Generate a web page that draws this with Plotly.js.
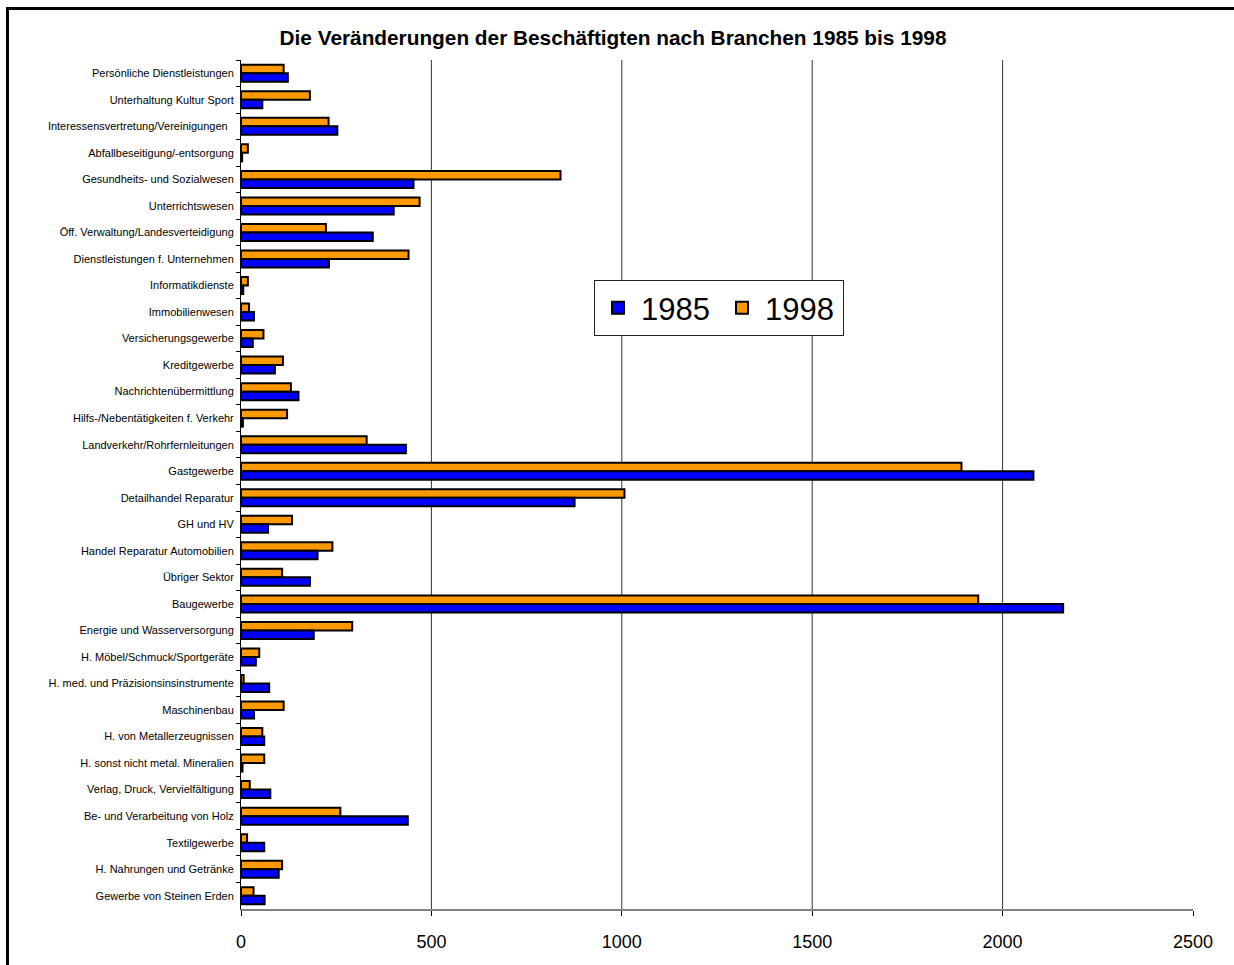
<!DOCTYPE html>
<html>
<head>
<meta charset="utf-8">
<script src="https://cdn.plot.ly/plotly-3.0.1.min.js"></script>
<style>
  html, body { margin: 0; padding: 0; background: #fff; overflow: hidden; }
  #wrap { position: relative; width: 1234px; height: 965px; }
  #chart { width: 1234px; height: 965px; }
  #frame { position: absolute; left: 6px; top: 7px; width: 1300px; height: 1100px;
           border: 3px solid #000; pointer-events: none; box-sizing: border-box; }
</style>
</head>
<body>
<div id="wrap">
  <div id="chart"></div>
  <div id="frame"></div>
</div>
<script>
// Categories, top to bottom as shown in the chart
const categories = [
  "Persönliche Dienstleistungen",
  "Unterhaltung Kultur Sport",
  "Interessensvertretung/Vereinigungen\u00a0\u00a0",
  "Abfallbeseitigung/-entsorgung",
  "Gesundheits- und Sozialwesen",
  "Unterrichtswesen",
  "Öff. Verwaltung/Landesverteidigung",
  "Dienstleistungen f. Unternehmen",
  "Informatikdienste",
  "Immobilienwesen",
  "Versicherungsgewerbe",
  "Kreditgewerbe",
  "Nachrichtenübermittlung",
  "Hilfs-/Nebentätigkeiten f. Verkehr",
  "Landverkehr/Rohrfernleitungen",
  "Gastgewerbe",
  "Detailhandel Reparatur",
  "GH und HV",
  "Handel Reparatur Automobilien",
  "Übriger Sektor",
  "Baugewerbe",
  "Energie und Wasserversorgung",
  "H. Möbel/Schmuck/Sportgeräte",
  "H. med. und Präzisionsinsinstrumente",
  "Maschinenbau",
  "H. von Metallerzeugnissen",
  "H. sonst nicht metal. Mineralien",
  "Verlag, Druck, Vervielfältigung",
  "Be- und Verarbeitung von Holz",
  "Textilgewerbe",
  "H. Nahrungen und Getränke",
  "Gewerbe von Steinen Erden"
];

const values1985 = [
  123, 56, 253, 3, 453, 401, 346, 231, 6, 34, 31, 89, 151, 5, 433, 2081,
  876, 71, 201, 181, 2159, 191, 39, 74, 34, 61, 4, 77, 438, 61, 99, 62
];

const values1998 = [
  112, 181, 230, 18, 839, 469, 223, 440, 18, 21, 59, 110, 131, 121, 330, 1892,
  1007, 134, 240, 108, 1936, 292, 48, 7, 112, 56, 61, 23, 261, 16, 108, 33
];

const seriesNames = ["1985", "1998"];
const xTickVals = [0, 500, 1000, 1500, 2000, 2500];
const gridVals = [500, 1000, 1500, 2000];

const font = "Liberation Sans, Arial, sans-serif";

const traces = [
  {
    type: "bar", orientation: "h", name: seriesNames[1],
    y: categories, x: values1998,
    marker: { color: "#FF9900", line: { color: "#000000", width: 2 } },
    hoverinfo: "x+y"
  },
  {
    type: "bar", orientation: "h", name: seriesNames[0],
    y: categories, x: values1985,
    marker: { color: "#0000FF", line: { color: "#000000", width: 2 } },
    hoverinfo: "x+y"
  }
];

const shapes = gridVals.map(v => ({
  type: "line", xref: "x", yref: "paper",
  x0: v, x1: v, y0: 0, y1: 1,
  line: { color: "#333333", width: 1 },
  layer: "below"
}));

const layout = {
  width: 1234, height: 965,
  margin: { l: 241, r: 41, t: 60, b: 56, pad: 0 },
  paper_bgcolor: "#ffffff",
  plot_bgcolor: "#ffffff",
  font: { family: font, color: "#000" },
  title: {
    text: "<b>Die Veränderungen der Beschäftigten nach Branchen 1985 bis 1998</b>",
    font: { family: font, size: 20.8, color: "#000" },
    x: 613 / 1234, xref: "container", xanchor: "center",
    y: 1 - 38 / 965, yref: "container", yanchor: "middle"
  },
  barmode: "group",
  bargap: 0.36,
  bargroupgap: 0,
  showlegend: true,
  legend: {
    orientation: "h",
    traceorder: "reversed",
    x: (594 - 241) / 952, xanchor: "left",
    y: (909 - 280) / 849, yanchor: "top",
    bgcolor: "#ffffff",
    bordercolor: "#222222", borderwidth: 1,
    itemwidth: 36,
    entrywidth: 73, entrywidthmode: "pixels",
    font: { family: font, size: 31, color: "#000" }
  },
  xaxis: {
    range: [0, 2500],
    tickmode: "array", tickvals: xTickVals,
    ticktext: xTickVals.map(String),
    showgrid: false, zeroline: false,
    showline: true, linecolor: "#808080", linewidth: 2,
    ticks: "outside", ticklen: 5, tickcolor: "#000", tickwidth: 1,
    tickfont: { family: font, size: 18, color: "#000" },
    ticklabelstandoff: 10,
    fixedrange: true
  },
  yaxis: {
    autorange: "reversed",
    type: "category",
    showgrid: false, zeroline: false,
    showline: true, linecolor: "#000", linewidth: 1,
    ticks: "outside", ticklen: 4, tickcolor: "#000", tickson: "boundaries",
    tickfont: { family: font, size: 11, color: "#000" },
    ticklabelstandoff: 4,
    fixedrange: true
  },
  shapes: shapes
};

Plotly.newPlot("chart", traces, layout, { displayModeBar: false, staticPlot: true });
</script>
</body>
</html>
